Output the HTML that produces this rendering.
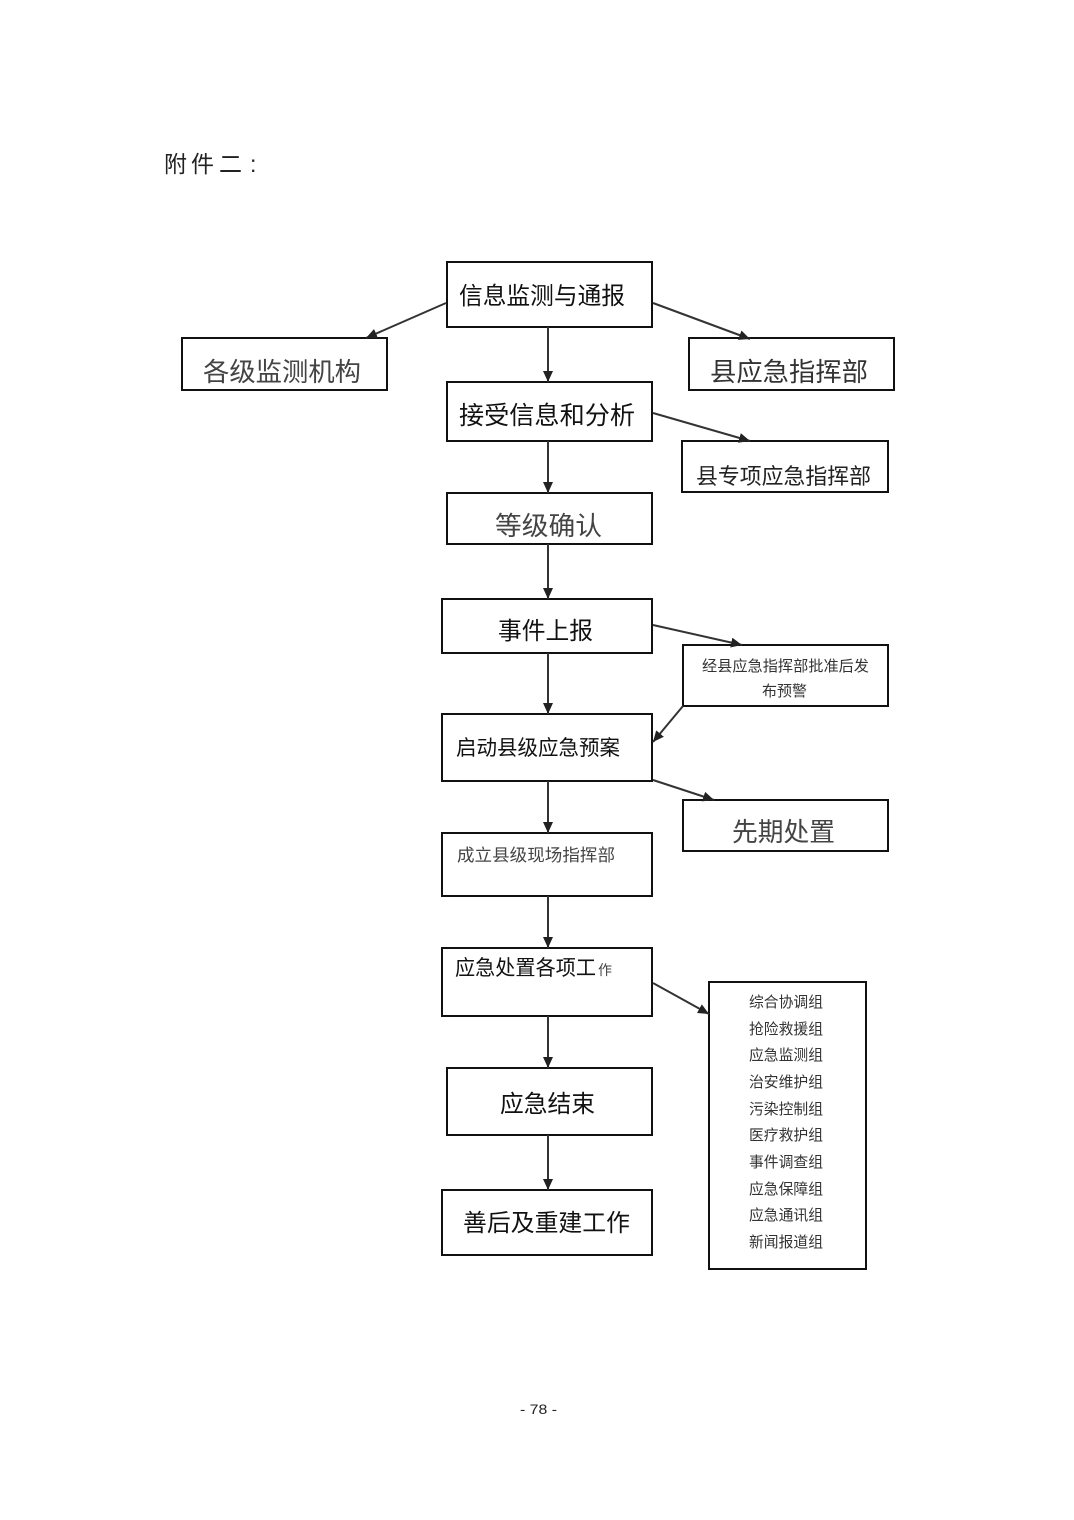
<!DOCTYPE html>
<html>
<head>
<meta charset="utf-8">
<style>
html,body{margin:0;padding:0;background:#fff;}
body{width:1074px;height:1520px;overflow:hidden;}
svg{display:block;}
text{font-family:"Liberation Sans","Noto Sans CJK SC",sans-serif;}
</style>
</head>
<body>
<svg width="1074" height="1520" viewBox="0 0 1074 1520" xmlns="http://www.w3.org/2000/svg">
<defs>
<marker id="ah" markerUnits="userSpaceOnUse" markerWidth="12" markerHeight="10" refX="11" refY="5" orient="auto">
<path d="M0,0 L11,5 L0,10 Z" fill="#222"/>
</marker>
</defs>
<rect width="1074" height="1520" fill="#fff"/>

<g fill="#222" font-size="23">
<text x="164" y="172">附</text>
<text x="191" y="172">件</text>
<text x="219" y="172">二</text>
<text x="250" y="172">:</text>
</g>

<g fill="none" stroke="#111" stroke-width="2">
<rect x="447" y="262" width="205" height="65"/>
<rect x="182" y="338" width="205" height="52"/>
<rect x="689" y="338" width="205" height="52"/>
<rect x="447" y="382" width="205" height="59"/>
<rect x="682" y="441" width="206" height="51"/>
<rect x="447" y="493" width="205" height="51"/>
<rect x="442" y="599" width="210" height="54"/>
<rect x="683" y="645" width="205" height="61"/>
<rect x="442" y="714" width="210" height="67"/>
<rect x="683" y="800" width="205" height="51"/>
<rect x="442" y="833" width="210" height="63"/>
<rect x="442" y="948" width="210" height="68"/>
<rect x="447" y="1068" width="205" height="67"/>
<rect x="442" y="1190" width="210" height="65"/>
<rect x="709" y="982" width="157" height="287"/>
</g>

<g stroke="#333" stroke-width="2" marker-end="url(#ah)">
<line x1="446" y1="303" x2="366" y2="338"/>
<line x1="653" y1="303" x2="750" y2="339"/>
<line x1="548" y1="327" x2="548" y2="382"/>
<line x1="653" y1="413" x2="750" y2="441"/>
<line x1="548" y1="441" x2="548" y2="493"/>
<line x1="548" y1="544" x2="548" y2="599"/>
<line x1="653" y1="625" x2="742" y2="645"/>
<line x1="548" y1="653" x2="548" y2="714"/>
<line x1="683" y1="706" x2="653" y2="742"/>
<line x1="653" y1="780" x2="714" y2="800"/>
<line x1="548" y1="781" x2="548" y2="833"/>
<line x1="548" y1="896" x2="548" y2="948"/>
<line x1="653" y1="983" x2="709" y2="1014"/>
<line x1="548" y1="1016" x2="548" y2="1068"/>
<line x1="548" y1="1135" x2="548" y2="1190"/>
</g>

<g fill="#111">
<text x="459" y="304" font-size="24" textLength="166" lengthAdjust="spacingAndGlyphs">信息监测与通报</text>
<text x="203" y="381" font-size="26" fill="#444" textLength="158" lengthAdjust="spacingAndGlyphs">各级监测机构</text>
<text x="710" y="381" font-size="26" fill="#333" textLength="158" lengthAdjust="spacingAndGlyphs">县应急指挥部</text>
<text x="459" y="424" font-size="25" textLength="176" lengthAdjust="spacingAndGlyphs">接受信息和分析</text>
<text x="696" y="484" font-size="22" fill="#222" textLength="175" lengthAdjust="spacingAndGlyphs">县专项应急指挥部</text>
<text x="495" y="535" font-size="26" fill="#444" textLength="107" lengthAdjust="spacingAndGlyphs">等级确认</text>
<text x="498" y="639" font-size="24" textLength="95" lengthAdjust="spacingAndGlyphs">事件上报</text>
<text x="702" y="671" font-size="15" fill="#333" textLength="167" lengthAdjust="spacingAndGlyphs">经县应急指挥部批准后发</text>
<text x="762" y="696" font-size="15" fill="#333" textLength="45" lengthAdjust="spacingAndGlyphs">布预警</text>
<text x="456" y="755" font-size="21" textLength="164" lengthAdjust="spacingAndGlyphs">启动县级应急预案</text>
<text x="732" y="841" font-size="26" fill="#444" textLength="103" lengthAdjust="spacingAndGlyphs">先期处置</text>
<text x="457" y="861" font-size="17" fill="#444" textLength="158" lengthAdjust="spacingAndGlyphs">成立县级现场指挥部</text>
<text x="455" y="975" font-size="21" textLength="141" lengthAdjust="spacingAndGlyphs">应急处置各项工</text>
<text x="598" y="975" font-size="14" fill="#444">作</text>
<text x="500" y="1112" font-size="24" textLength="95" lengthAdjust="spacingAndGlyphs">应急结束</text>
<text x="463" y="1231" font-size="24" textLength="167" lengthAdjust="spacingAndGlyphs">善后及重建工作</text>
</g>

<g fill="#333" font-size="15">
<text x="749" y="1007" textLength="74" lengthAdjust="spacingAndGlyphs">综合协调组</text>
<text x="749" y="1034" textLength="74" lengthAdjust="spacingAndGlyphs">抢险救援组</text>
<text x="749" y="1060" textLength="74" lengthAdjust="spacingAndGlyphs">应急监测组</text>
<text x="749" y="1087" textLength="74" lengthAdjust="spacingAndGlyphs">治安维护组</text>
<text x="749" y="1114" textLength="74" lengthAdjust="spacingAndGlyphs">污染控制组</text>
<text x="749" y="1140" textLength="74" lengthAdjust="spacingAndGlyphs">医疗救护组</text>
<text x="749" y="1167" textLength="74" lengthAdjust="spacingAndGlyphs">事件调查组</text>
<text x="749" y="1194" textLength="74" lengthAdjust="spacingAndGlyphs">应急保障组</text>
<text x="749" y="1220" textLength="74" lengthAdjust="spacingAndGlyphs">应急通讯组</text>
<text x="749" y="1247" textLength="74" lengthAdjust="spacingAndGlyphs">新闻报道组</text>
</g>

<text x="520" y="1414" font-size="14" fill="#222" textLength="37" lengthAdjust="spacingAndGlyphs">- 78 -</text>
</svg>
</body>
</html>
